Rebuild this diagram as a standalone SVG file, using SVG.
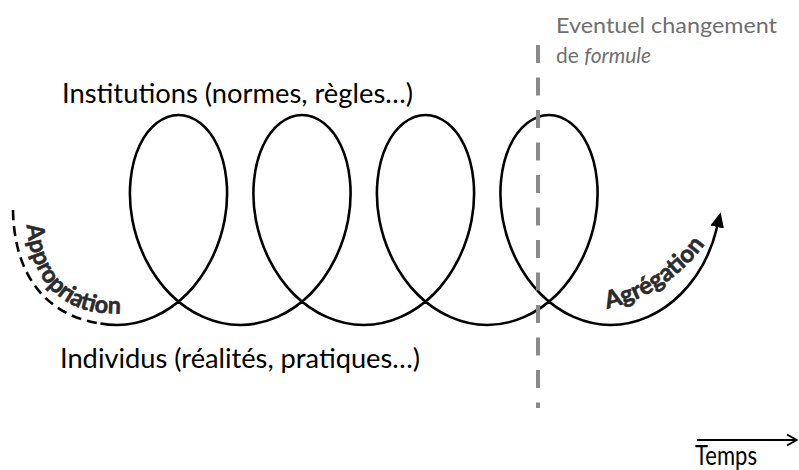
<svg xmlns="http://www.w3.org/2000/svg" xmlns:xlink="http://www.w3.org/1999/xlink" width="799" height="470" viewBox="0 0 799 470">
  <style>
    .main { font-family: Lato, "Liberation Sans", sans-serif; font-size: 26px; fill: #000; }
    .grey { font-family: Lato, "Liberation Sans", sans-serif; font-size: 21px; fill: #6f6f6f; }
    .lbl { font-family: Lato, "Liberation Sans", sans-serif; font-size: 24px; font-weight: bold; fill: #2b2b2b; stroke: #2b2b2b; stroke-width: 0.6; }
    .curve { fill: none; stroke: #000; stroke-width: 2.6; }
  </style>
  <defs>
    <marker id="head" markerUnits="userSpaceOnUse" markerWidth="16" markerHeight="16" viewBox="0 -8 16 16" refX="0" refY="0" orient="auto">
      <path d="M0,-7 L15,0 L0,7 z" fill="#000"/>
    </marker>
    <path id="pApp" d="M26 213 C27 272, 53 308, 102 313 L150 315"/>
    <path id="pAgr" d="M605 309 Q668 296 708 240"/>
  </defs>
  <rect width="799" height="470" fill="#fff"/>

  <g id="connectors">
    <path id="appropriation-dash" class="curve" stroke-dasharray="10 6" d="M13 210 C14 275, 46 315.5, 100.4 323.5"/>
    <path id="spiral" class="curve" marker-end="url(#head)" d="M100.4 323.5 C105.8 324.5, 111.26 325, 116.74 325
      C142.05 325, 167.23 313.69, 186.63 294.25 C206.03 274.81, 219.47 247.49, 224.62 220
      C229.77 192.51, 226.62 165.19, 217.51 145.75 C208.4 126.31, 193.51 115, 178.5 115
      C163.49 115, 148.6 126.31, 139.49 145.75 C130.38 165.19, 127.23 192.51, 132.38 220
      C137.53 247.49, 150.97 274.81, 170.37 294.25 C189.77 313.69, 214.95 325, 240.26 325
      C265.55 325, 290.73 313.69, 310.13 294.25 C329.53 274.81, 342.97 247.49, 348.12 220
      C353.27 192.51, 350.12 165.19, 341.01 145.75 C331.9 126.31, 317.01 115, 302 115
      C286.99 115, 272.1 126.31, 262.99 145.75 C253.88 165.19, 250.73 192.51, 255.88 220
      C261.03 247.49, 274.47 274.81, 293.87 294.25 C313.27 313.69, 338.45 325, 363.76 325
      C389.05 325, 414.23 313.69, 433.63 294.25 C453.03 274.81, 466.47 247.49, 471.62 220
      C476.77 192.51, 473.62 165.19, 464.51 145.75 C455.4 126.31, 440.51 115, 425.5 115
      C410.49 115, 395.6 126.31, 386.49 145.75 C377.38 165.19, 374.23 192.51, 379.38 220
      C384.53 247.49, 397.97 274.81, 417.37 294.25 C436.77 313.69, 461.95 325, 487.26 325
      C512.55 325, 537.73 313.69, 557.13 294.25 C576.53 274.81, 589.97 247.49, 595.12 220
      C600.27 192.51, 597.12 165.19, 588.01 145.75 C578.9 126.31, 564.01 115, 549 115
      C533.99 115, 519.1 126.31, 509.99 145.75 C500.88 165.19, 497.73 192.51, 502.88 220
      C508.03 247.49, 521.47 274.81, 540.87 294.25 C560.27 313.69, 585.45 325, 610.76 325
      C636.05 325, 661.23 313.69, 680.63 294.25 C698.39 276.46, 711.2 252.1, 717.14 227"/>
    <line id="formula-change" x1="538" y1="45" x2="538" y2="408" stroke="#8a8a8a" stroke-width="4" stroke-dasharray="18 14.5"/>
    <g id="time-arrow" fill="none" stroke="#000" stroke-width="2">
      <line x1="697" y1="440" x2="796" y2="440"/>
      <polyline points="787,434.5 796.5,440 787,445.5"/>
    </g>
  </g>

  <g id="label-appropriation">
    <text class="lbl"><textPath xlink:href="#pApp" startOffset="12" textLength="146" lengthAdjust="spacingAndGlyphs">Appropriation</textPath></text>
  </g>
  <g id="label-agregation">
    <text class="lbl"><textPath xlink:href="#pAgr" startOffset="2" textLength="120" lengthAdjust="spacingAndGlyphs">Agrégation</textPath></text>
  </g>
  <g id="node-institutions">
    <text class="main" x="62" y="103" textLength="351" lengthAdjust="spacingAndGlyphs">Institutions (normes, règles…)</text>
  </g>
  <g id="node-individus">
    <text class="main" x="60" y="368" textLength="360" lengthAdjust="spacingAndGlyphs">Individus (réalités, pratiques…)</text>
  </g>
  <g id="node-formule">
    <text class="grey" x="556" y="33" textLength="221" lengthAdjust="spacingAndGlyphs">Eventuel changement</text>
    <text class="grey" x="556" y="63">de <tspan font-style="italic">formule</tspan></text>
  </g>
  <g id="node-temps">
    <text class="main" x="695" y="465" font-size="18" textLength="62" lengthAdjust="spacingAndGlyphs">Temps</text>
  </g>
</svg>
